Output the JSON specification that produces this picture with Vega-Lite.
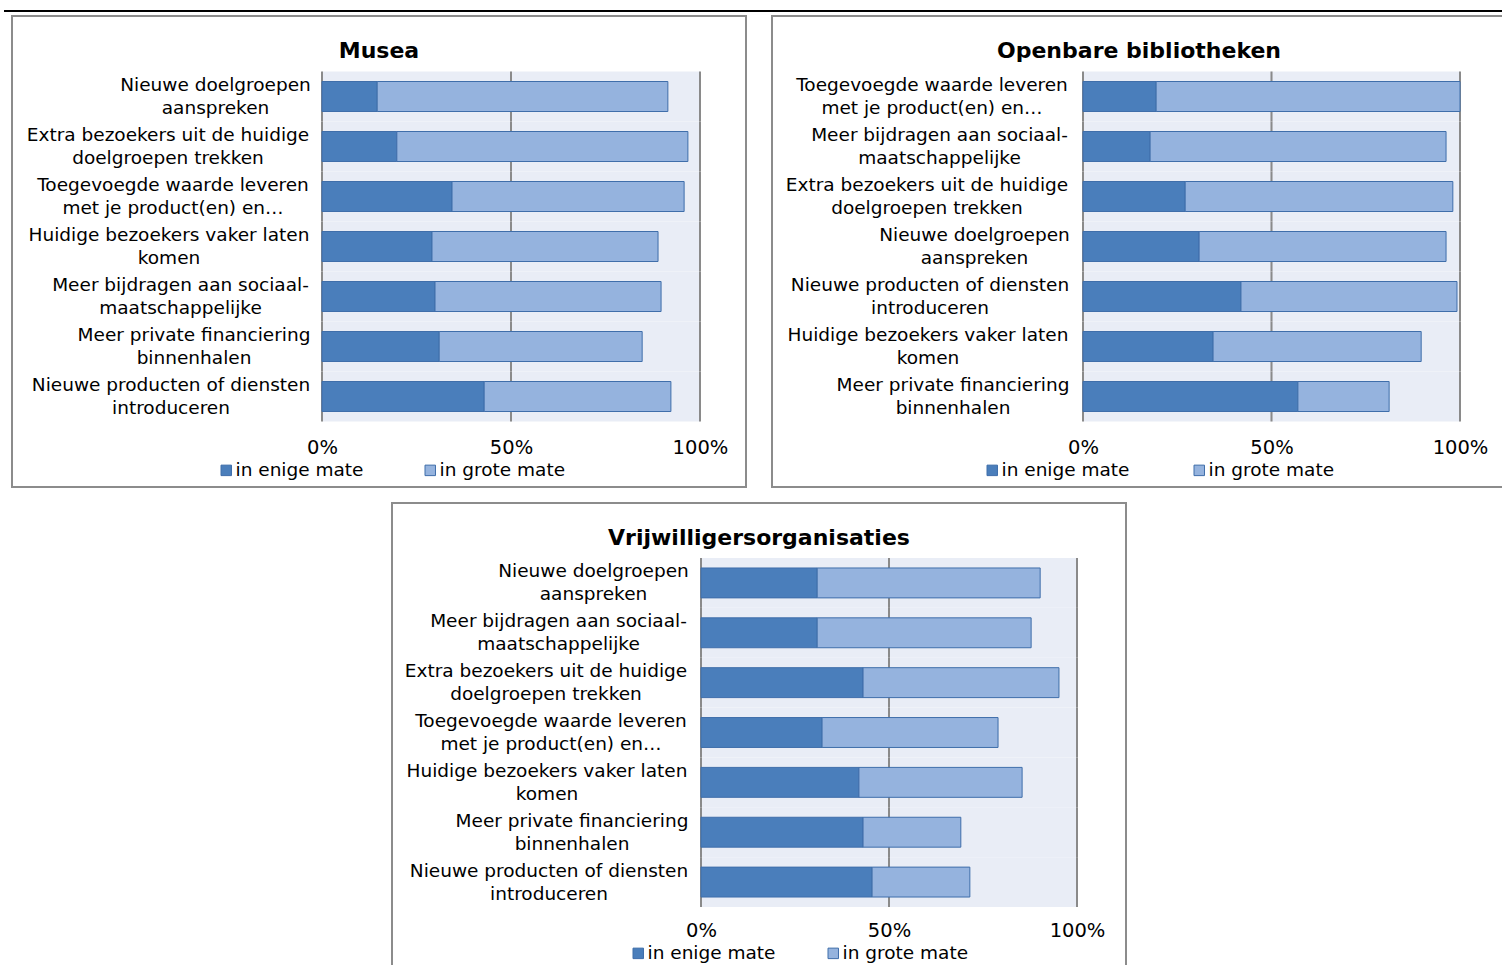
{
  "$schema": "https://vega.github.io/schema/vega-lite/v6.json",
  "padding": {"left": 3, "top": 9, "right": 0, "bottom": 0},
  "background": "white",
  "config": {"font": "DejaVu Sans", "view": {"stroke": null}},
  "datasets": {
    "d": [
      {"panel": "Musea", "cat": "Nieuwe doelgroepen\naanspreken", "serie": "in enige mate", "value": 14.6},
      {"panel": "Musea", "cat": "Nieuwe doelgroepen\naanspreken", "serie": "in grote mate", "value": 76.9},
      {"panel": "Musea", "cat": "Extra bezoekers uit de huidige\ndoelgroepen trekken", "serie": "in enige mate", "value": 19.8},
      {"panel": "Musea", "cat": "Extra bezoekers uit de huidige\ndoelgroepen trekken", "serie": "in grote mate", "value": 77.0},
      {"panel": "Musea", "cat": "Toegevoegde waarde leveren\nmet je product(en) en…", "serie": "in enige mate", "value": 34.4},
      {"panel": "Musea", "cat": "Toegevoegde waarde leveren\nmet je product(en) en…", "serie": "in grote mate", "value": 61.4},
      {"panel": "Musea", "cat": "Huidige bezoekers vaker laten\nkomen", "serie": "in enige mate", "value": 29.1},
      {"panel": "Musea", "cat": "Huidige bezoekers vaker laten\nkomen", "serie": "in grote mate", "value": 59.8},
      {"panel": "Musea", "cat": "Meer bijdragen aan sociaal-\nmaatschappelijke", "serie": "in enige mate", "value": 29.9},
      {"panel": "Musea", "cat": "Meer bijdragen aan sociaal-\nmaatschappelijke", "serie": "in grote mate", "value": 59.8},
      {"panel": "Musea", "cat": "Meer private financiering\nbinnenhalen", "serie": "in enige mate", "value": 31.0},
      {"panel": "Musea", "cat": "Meer private financiering\nbinnenhalen", "serie": "in grote mate", "value": 53.7},
      {"panel": "Musea", "cat": "Nieuwe producten of diensten\nintroduceren", "serie": "in enige mate", "value": 42.9},
      {"panel": "Musea", "cat": "Nieuwe producten of diensten\nintroduceren", "serie": "in grote mate", "value": 49.4},

      {"panel": "Bib", "cat": "Toegevoegde waarde leveren\nmet je product(en) en…", "serie": "in enige mate", "value": 19.4},
      {"panel": "Bib", "cat": "Toegevoegde waarde leveren\nmet je product(en) en…", "serie": "in grote mate", "value": 80.6},
      {"panel": "Bib", "cat": "Meer bijdragen aan sociaal-\nmaatschappelijke", "serie": "in enige mate", "value": 17.8},
      {"panel": "Bib", "cat": "Meer bijdragen aan sociaal-\nmaatschappelijke", "serie": "in grote mate", "value": 78.5},
      {"panel": "Bib", "cat": "Extra bezoekers uit de huidige\ndoelgroepen trekken", "serie": "in enige mate", "value": 27.1},
      {"panel": "Bib", "cat": "Extra bezoekers uit de huidige\ndoelgroepen trekken", "serie": "in grote mate", "value": 71.0},
      {"panel": "Bib", "cat": "Nieuwe doelgroepen\naanspreken", "serie": "in enige mate", "value": 30.8},
      {"panel": "Bib", "cat": "Nieuwe doelgroepen\naanspreken", "serie": "in grote mate", "value": 65.5},
      {"panel": "Bib", "cat": "Nieuwe producten of diensten\nintroduceren", "serie": "in enige mate", "value": 41.9},
      {"panel": "Bib", "cat": "Nieuwe producten of diensten\nintroduceren", "serie": "in grote mate", "value": 57.3},
      {"panel": "Bib", "cat": "Huidige bezoekers vaker laten\nkomen", "serie": "in enige mate", "value": 34.5},
      {"panel": "Bib", "cat": "Huidige bezoekers vaker laten\nkomen", "serie": "in grote mate", "value": 55.2},
      {"panel": "Bib", "cat": "Meer private financiering\nbinnenhalen", "serie": "in enige mate", "value": 57.0},
      {"panel": "Bib", "cat": "Meer private financiering\nbinnenhalen", "serie": "in grote mate", "value": 24.2},

      {"panel": "Vrij", "cat": "Nieuwe doelgroepen\naanspreken", "serie": "in enige mate", "value": 30.9},
      {"panel": "Vrij", "cat": "Nieuwe doelgroepen\naanspreken", "serie": "in grote mate", "value": 59.3},
      {"panel": "Vrij", "cat": "Meer bijdragen aan sociaal-\nmaatschappelijke", "serie": "in enige mate", "value": 30.9},
      {"panel": "Vrij", "cat": "Meer bijdragen aan sociaal-\nmaatschappelijke", "serie": "in grote mate", "value": 56.9},
      {"panel": "Vrij", "cat": "Extra bezoekers uit de huidige\ndoelgroepen trekken", "serie": "in enige mate", "value": 43.1},
      {"panel": "Vrij", "cat": "Extra bezoekers uit de huidige\ndoelgroepen trekken", "serie": "in grote mate", "value": 52.1},
      {"panel": "Vrij", "cat": "Toegevoegde waarde leveren\nmet je product(en) en…", "serie": "in enige mate", "value": 32.2},
      {"panel": "Vrij", "cat": "Toegevoegde waarde leveren\nmet je product(en) en…", "serie": "in grote mate", "value": 46.8},
      {"panel": "Vrij", "cat": "Huidige bezoekers vaker laten\nkomen", "serie": "in enige mate", "value": 42.0},
      {"panel": "Vrij", "cat": "Huidige bezoekers vaker laten\nkomen", "serie": "in grote mate", "value": 43.4},
      {"panel": "Vrij", "cat": "Meer private financiering\nbinnenhalen", "serie": "in enige mate", "value": 43.1},
      {"panel": "Vrij", "cat": "Meer private financiering\nbinnenhalen", "serie": "in grote mate", "value": 26.0},
      {"panel": "Vrij", "cat": "Nieuwe producten of diensten\nintroduceren", "serie": "in enige mate", "value": 45.5},
      {"panel": "Vrij", "cat": "Nieuwe producten of diensten\nintroduceren", "serie": "in grote mate", "value": 26.0}
    ]
  },
  "spacing": 3,
  "center": true,
  "resolve": {"scale": {"color": "independent"}, "legend": {"color": "independent"}},
  "vconcat": [
    {
      "width": 1511, "height": 2,
      "view": {"fill": "black", "stroke": null},
      "data": {"values": [{}]},
      "mark": {"type": "rule", "opacity": 0},
      "encoding": {}
    },
    {
      "spacing": 14,
      "center": true,
      "resolve": {"scale": {"color": "independent"}, "legend": {"color": "independent"}},
      "vconcat": [
        {
          "spacing": 24,
          "resolve": {"scale": {"color": "independent"}, "legend": {"color": "independent"}},
          "hconcat": [
            {
              "width": 734, "height": 471,
              "data": {"name": "d"},
              "transform": [{"filter": "datum.panel === 'Musea'"}],
              "title": {"text": "Musea", "font": "DejaVu Sans", "fontSize": 22, "fontWeight": "bold", "color": "#000", "anchor": "middle", "frame": "group", "baseline": "alphabetic", "offset": -64},
              "view": {"stroke": "#8C8C8C", "strokeWidth": 2, "fill": "white"},
              "encoding": {
                "y": {"field": "cat", "type": "nominal", "title": null,
                  "sort": ["Nieuwe doelgroepen\naanspreken", "Extra bezoekers uit de huidige\ndoelgroepen trekken", "Toegevoegde waarde leveren\nmet je product(en) en…", "Huidige bezoekers vaker laten\nkomen", "Meer bijdragen aan sociaal-\nmaatschappelijke", "Meer private financiering\nbinnenhalen", "Nieuwe producten of diensten\nintroduceren"],
                  "scale": {"paddingInner": 0, "paddingOuter": 0, "range": [55.5, 405.5]},
                  "axis": {"orient": "left", "offset": -310, "ticks": false, "domain": false, "grid": false, "labelFont": "DejaVu Sans", "labelFontSize": 18.5, "labelColor": "#000", "labelAlign": "center", "labelBaseline": "middle", "labelLineHeight": 23, "labelOffset": -11.5, "labelLimit": 600, "labelExpr": "split(datum.label, '\\n')",
                    "labelPadding": {"condition": [
                      {"test": "datum.value === 'Nieuwe doelgroepen\\naanspreken'", "value": 107},
                      {"test": "datum.value === 'Extra bezoekers uit de huidige\\ndoelgroepen trekken'", "value": 154.5},
                      {"test": "datum.value === 'Toegevoegde waarde leveren\\nmet je product(en) en…'", "value": 149.5},
                      {"test": "datum.value === 'Huidige bezoekers vaker laten\\nkomen'", "value": 153.5},
                      {"test": "datum.value === 'Meer bijdragen aan sociaal-\\nmaatschappelijke'", "value": 142},
                      {"test": "datum.value === 'Meer private financiering\\nbinnenhalen'", "value": 128.5}
                    ], "value": 151.5}}
                }
              },
              "layer": [
                {"transform": [{"filter": "datum.serie === 'in enige mate'"}], "mark": {"type": "bar", "height": {"band": 1}, "color": "#E9EDF6"}, "encoding": {"x": {"datum": 0, "type": "quantitative", "title": null}, "x2": {"datum": 100}}},
                {"transform": [{"filter": "datum.serie === 'in enige mate'"}], "mark": {"type": "bar", "height": {"band": 1}, "color": "#8A8A8A"}, "encoding": {"x": {"datum": -0.27, "type": "quantitative", "title": null}, "x2": {"datum": 0.27}}},
                {"transform": [{"filter": "datum.serie === 'in enige mate'"}], "mark": {"type": "bar", "height": {"band": 1}, "color": "#8A8A8A"}, "encoding": {"x": {"datum": 49.73, "type": "quantitative", "title": null}, "x2": {"datum": 50.27}}},
                {"transform": [{"filter": "datum.serie === 'in enige mate'"}], "mark": {"type": "bar", "height": {"band": 1}, "color": "#8A8A8A"}, "encoding": {"x": {"datum": 99.73, "type": "quantitative", "title": null}, "x2": {"datum": 100.27}}},
                {"mark": {"type": "bar", "height": {"band": 0.6}, "stroke": "#3F6EAA", "strokeWidth": 1},
                  "encoding": {
                    "x": {"field": "value", "type": "quantitative", "stack": "zero", "title": null,
                      "scale": {"domain": [-82.01, 112.17], "nice": false, "zero": false},
                      "axis": {"orient": "bottom", "offset": -49, "values": [0, 50, 100], "labelExpr": "datum.value + '%'", "ticks": false, "domain": false, "grid": false, "labelFont": "DejaVu Sans", "labelFontSize": 19.5, "labelColor": "#000", "labelPadding": 0, "labelFlush": false, "labelOverlap": false}},
                    "color": {"field": "serie", "type": "nominal",
                      "scale": {"domain": ["in enige mate", "in grote mate"], "range": ["#4A7EBB", "#95B3DE"]},
                      "legend": {"orient": "none", "legendX": 205, "legendY": 445, "direction": "horizontal", "title": null, "symbolType": "square", "symbolSize": 110, "symbolStrokeWidth": 1, "symbolStrokeColor": "#3F6EAA", "labelFont": "DejaVu Sans", "labelFontSize": 18.5, "labelColor": "#000", "labelOffset": 0, "columnPadding": 57, "padding": 0}}
                  }}
              ]
            },
            {
              "width": 734, "height": 471,
              "data": {"name": "d"},
              "transform": [{"filter": "datum.panel === 'Bib'"}],
              "title": {"text": "Openbare bibliotheken", "font": "DejaVu Sans", "fontSize": 22, "fontWeight": "bold", "color": "#000", "anchor": "middle", "frame": "group", "baseline": "alphabetic", "offset": -64},
              "view": {"stroke": "#8C8C8C", "strokeWidth": 2, "fill": "white"},
              "encoding": {
                "y": {"field": "cat", "type": "nominal", "title": null,
                  "sort": ["Toegevoegde waarde leveren\nmet je product(en) en…", "Meer bijdragen aan sociaal-\nmaatschappelijke", "Extra bezoekers uit de huidige\ndoelgroepen trekken", "Nieuwe doelgroepen\naanspreken", "Nieuwe producten of diensten\nintroduceren", "Huidige bezoekers vaker laten\nkomen", "Meer private financiering\nbinnenhalen"],
                  "scale": {"paddingInner": 0, "paddingOuter": 0, "range": [55.5, 405.5]},
                  "axis": {"orient": "left", "offset": -311, "ticks": false, "domain": false, "grid": false, "labelFont": "DejaVu Sans", "labelFontSize": 18.5, "labelColor": "#000", "labelAlign": "center", "labelBaseline": "middle", "labelLineHeight": 23, "labelOffset": -11.5, "labelLimit": 600, "labelExpr": "split(datum.label, '\\n')",
                    "labelPadding": {"condition": [
                      {"test": "datum.value === 'Nieuwe doelgroepen\\naanspreken'", "value": 109},
                      {"test": "datum.value === 'Extra bezoekers uit de huidige\\ndoelgroepen trekken'", "value": 156.5},
                      {"test": "datum.value === 'Toegevoegde waarde leveren\\nmet je product(en) en…'", "value": 151.5},
                      {"test": "datum.value === 'Huidige bezoekers vaker laten\\nkomen'", "value": 155.5},
                      {"test": "datum.value === 'Meer bijdragen aan sociaal-\\nmaatschappelijke'", "value": 144},
                      {"test": "datum.value === 'Meer private financiering\\nbinnenhalen'", "value": 130.5}
                    ], "value": 153.5}}
                }
              },
              "layer": [
                {"transform": [{"filter": "datum.serie === 'in enige mate'"}], "mark": {"type": "bar", "height": {"band": 1}, "color": "#E9EDF6"}, "encoding": {"x": {"datum": 0, "type": "quantitative", "title": null}, "x2": {"datum": 100}}},
                {"transform": [{"filter": "datum.serie === 'in enige mate'"}], "mark": {"type": "bar", "height": {"band": 1}, "color": "#8A8A8A"}, "encoding": {"x": {"datum": -0.27, "type": "quantitative", "title": null}, "x2": {"datum": 0.27}}},
                {"transform": [{"filter": "datum.serie === 'in enige mate'"}], "mark": {"type": "bar", "height": {"band": 1}, "color": "#8A8A8A"}, "encoding": {"x": {"datum": 49.73, "type": "quantitative", "title": null}, "x2": {"datum": 50.27}}},
                {"transform": [{"filter": "datum.serie === 'in enige mate'"}], "mark": {"type": "bar", "height": {"band": 1}, "color": "#8A8A8A"}, "encoding": {"x": {"datum": 99.73, "type": "quantitative", "title": null}, "x2": {"datum": 100.27}}},
                {"mark": {"type": "bar", "height": {"band": 0.6}, "stroke": "#3F6EAA", "strokeWidth": 1},
                  "encoding": {
                    "x": {"field": "value", "type": "quantitative", "stack": "zero", "title": null,
                      "scale": {"domain": [-82.49, 112.2], "nice": false, "zero": false},
                      "axis": {"orient": "bottom", "offset": -49, "values": [0, 50, 100], "labelExpr": "datum.value + '%'", "ticks": false, "domain": false, "grid": false, "labelFont": "DejaVu Sans", "labelFontSize": 19.5, "labelColor": "#000", "labelPadding": 0, "labelFlush": false, "labelOverlap": false}},
                    "color": {"field": "serie", "type": "nominal",
                      "scale": {"domain": ["in enige mate", "in grote mate"], "range": ["#4A7EBB", "#95B3DE"]},
                      "legend": {"orient": "none", "legendX": 211, "legendY": 445, "direction": "horizontal", "title": null, "symbolType": "square", "symbolSize": 110, "symbolStrokeWidth": 1, "symbolStrokeColor": "#3F6EAA", "labelFont": "DejaVu Sans", "labelFontSize": 18.5, "labelColor": "#000", "labelOffset": 0, "columnPadding": 60, "padding": 0}}
                  }}
              ]
            }
          ]
        },
        {
          "width": 734, "height": 471,
          "data": {"name": "d"},
          "transform": [{"filter": "datum.panel === 'Vrij'"}],
          "title": {"text": "Vrijwilligersorganisaties", "font": "DejaVu Sans", "fontSize": 22, "fontWeight": "bold", "color": "#000", "anchor": "middle", "frame": "group", "baseline": "alphabetic", "offset": -64},
          "view": {"stroke": "#8C8C8C", "strokeWidth": 2, "fill": "white"},
          "encoding": {
            "y": {"field": "cat", "type": "nominal", "title": null,
              "sort": ["Nieuwe doelgroepen\naanspreken", "Meer bijdragen aan sociaal-\nmaatschappelijke", "Extra bezoekers uit de huidige\ndoelgroepen trekken", "Toegevoegde waarde leveren\nmet je product(en) en…", "Huidige bezoekers vaker laten\nkomen", "Meer private financiering\nbinnenhalen", "Nieuwe producten of diensten\nintroduceren"],
              "scale": {"paddingInner": 0, "paddingOuter": 0, "range": [55, 404]},
              "axis": {"orient": "left", "offset": -309, "ticks": false, "domain": false, "grid": false, "labelFont": "DejaVu Sans", "labelFontSize": 18.5, "labelColor": "#000", "labelAlign": "center", "labelBaseline": "middle", "labelLineHeight": 23, "labelOffset": -11.5, "labelLimit": 600, "labelExpr": "split(datum.label, '\\n')",
                "labelPadding": {"condition": [
                  {"test": "datum.value === 'Nieuwe doelgroepen\\naanspreken'", "value": 108},
                  {"test": "datum.value === 'Extra bezoekers uit de huidige\\ndoelgroepen trekken'", "value": 155.5},
                  {"test": "datum.value === 'Toegevoegde waarde leveren\\nmet je product(en) en…'", "value": 150.5},
                  {"test": "datum.value === 'Huidige bezoekers vaker laten\\nkomen'", "value": 154.5},
                  {"test": "datum.value === 'Meer bijdragen aan sociaal-\\nmaatschappelijke'", "value": 143},
                  {"test": "datum.value === 'Meer private financiering\\nbinnenhalen'", "value": 129.5}
                ], "value": 152.5}}
            }
          },
          "layer": [
            {"transform": [{"filter": "datum.serie === 'in enige mate'"}], "mark": {"type": "bar", "height": {"band": 1}, "color": "#E9EDF6"}, "encoding": {"x": {"datum": 0, "type": "quantitative", "title": null}, "x2": {"datum": 100}}},
            {"transform": [{"filter": "datum.serie === 'in enige mate'"}], "mark": {"type": "bar", "height": {"band": 1}, "color": "#8A8A8A"}, "encoding": {"x": {"datum": -0.27, "type": "quantitative", "title": null}, "x2": {"datum": 0.27}}},
            {"transform": [{"filter": "datum.serie === 'in enige mate'"}], "mark": {"type": "bar", "height": {"band": 1}, "color": "#8A8A8A"}, "encoding": {"x": {"datum": 49.73, "type": "quantitative", "title": null}, "x2": {"datum": 50.27}}},
            {"transform": [{"filter": "datum.serie === 'in enige mate'"}], "mark": {"type": "bar", "height": {"band": 1}, "color": "#8A8A8A"}, "encoding": {"x": {"datum": 99.73, "type": "quantitative", "title": null}, "x2": {"datum": 100.27}}},
            {"mark": {"type": "bar", "height": {"band": 0.6}, "stroke": "#3F6EAA", "strokeWidth": 1},
              "encoding": {
                "x": {"field": "value", "type": "quantitative", "stack": "zero", "title": null,
                  "scale": {"domain": [-82.18, 113.03], "nice": false, "zero": false},
                  "axis": {"orient": "bottom", "offset": -53, "values": [0, 50, 100], "labelExpr": "datum.value + '%'", "ticks": false, "domain": false, "grid": false, "labelFont": "DejaVu Sans", "labelFontSize": 19.5, "labelColor": "#000", "labelPadding": 0, "labelFlush": false, "labelOverlap": false}},
                "color": {"field": "serie", "type": "nominal",
                  "scale": {"domain": ["in enige mate", "in grote mate"], "range": ["#4A7EBB", "#95B3DE"]},
                  "legend": {"orient": "none", "legendX": 237, "legendY": 441, "direction": "horizontal", "title": null, "symbolType": "square", "symbolSize": 110, "symbolStrokeWidth": 1, "symbolStrokeColor": "#3F6EAA", "labelFont": "DejaVu Sans", "labelFontSize": 18.5, "labelColor": "#000", "labelOffset": 0, "columnPadding": 48, "padding": 0}}
              }}
          ]
        }
      ]
    }
  ]
}
